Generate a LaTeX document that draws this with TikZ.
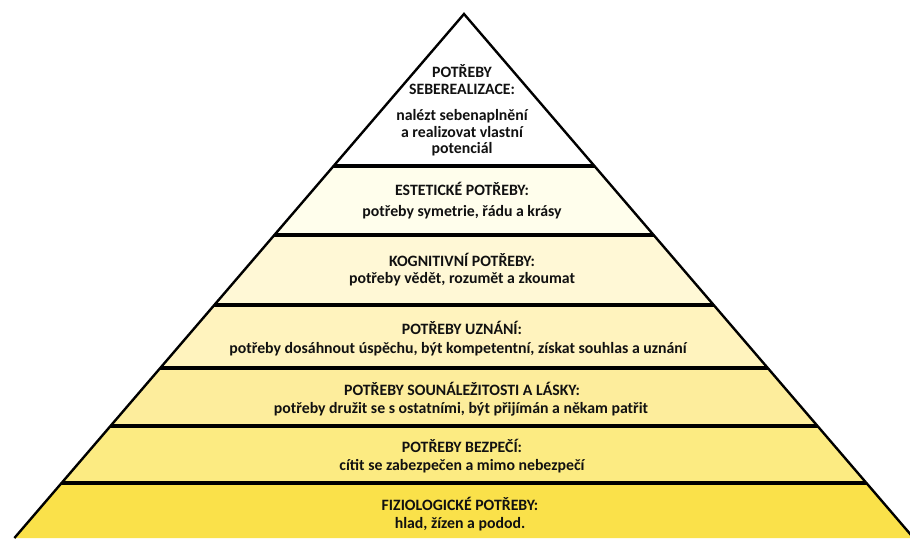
\documentclass[tikz,border=0pt]{standalone}
\usepackage{fontspec}
\setmainfont{Carlito}
\definecolor{lone}{HTML}{FFFFFF}
\definecolor{ltwo}{HTML}{FFFEEC}
\definecolor{lthree}{HTML}{FFF8D6}
\definecolor{lfour}{HTML}{FFF3BE}
\definecolor{lfive}{HTML}{FDED9C}
\definecolor{lsix}{HTML}{FCEB82}
\definecolor{lseven}{HTML}{FAE14A}
\definecolor{txt}{HTML}{111111}
\tikzset{
  lbl/.style={anchor=base, inner sep=0pt, text=txt, font=\fontsize{15.8}{18}\bfseries\selectfont},
  sep/.style={line width=3.4pt, black},
  edge/.style={line width=2.4pt, black, line join=miter}
}
\begin{document}
\begin{tikzpicture}[x=1pt,y=-1pt]
\useasboundingbox (0,0) rectangle (910,538);
\clip (0,0) rectangle (910,538);
\coordinate (apex) at (464,14);
\coordinate (bl) at (14.4,538);
\coordinate (br) at (913.6,538);
\begin{scope}
\clip (apex) -- (bl) -- (br) -- cycle;
\fill[lone] (0,0) rectangle (920,166);
\fill[ltwo] (0,166) rectangle (920,235);
\fill[lthree] (0,235) rectangle (920,305);
\fill[lfour] (0,305) rectangle (920,368);
\fill[lfive] (0,368) rectangle (920,426);
\fill[lsix] (0,426) rectangle (920,483);
\fill[lseven] (0,483) rectangle (920,540);
\draw[sep] (0,166) -- (920,166);
\draw[sep] (0,235) -- (920,235);
\draw[sep] (0,305) -- (920,305);
\draw[sep] (0,368) -- (920,368);
\draw[sep] (0,426) -- (920,426);
\draw[sep] (0,483) -- (920,483);
\end{scope}
\draw[edge] (bl) -- (apex) -- (br);
% texts
\node[lbl] (t1a) at (462,77) {POTŘEBY};
\node[lbl] (t1b) at (462,94) {SEBEREALIZACE:};
\node[lbl] (t1c) at (462,120) {nalézt sebenaplnění};
\node[lbl] (t1d) at (462,137) {a realizovat vlastní};
\node[lbl] (t1e) at (462,153) {potenciál};
\node[lbl] (t2a) at (462,195) {ESTETICKÉ POTŘEBY:};
\node[lbl] (t2b) at (462,216) {potřeby symetrie, řádu a krásy};
\node[lbl] (t3a) at (462,266) {KOGNITIVNÍ POTŘEBY:};
\node[lbl] (t3b) at (462,283) {potřeby vědět, rozumět a zkoumat};
\node[lbl] (t4a) at (462,334) {POTŘEBY UZNÁNÍ:};
\node[lbl] (t4b) at (458,353) {potřeby dosáhnout úspěchu, být kompetentní, získat souhlas a uznání};
\node[lbl] (t5a) at (462,395) {POTŘEBY SOUNÁLEŽITOSTI A LÁSKY:};
\node[lbl] (t5b) at (461,413) {potřeby družit se s ostatními, být přijímán a někam patřit};
\node[lbl] (t6a) at (462,452) {POTŘEBY BEZPEČÍ:};
\node[lbl] (t6b) at (462,470) {cítit se zabezpečen a mimo nebezpečí};
\node[lbl] (t7a) at (460,510) {FIZIOLOGICKÉ POTŘEBY:};
\node[lbl] (t7b) at (460,528) {hlad, žízen a podod.};
\end{tikzpicture}
\end{document}
